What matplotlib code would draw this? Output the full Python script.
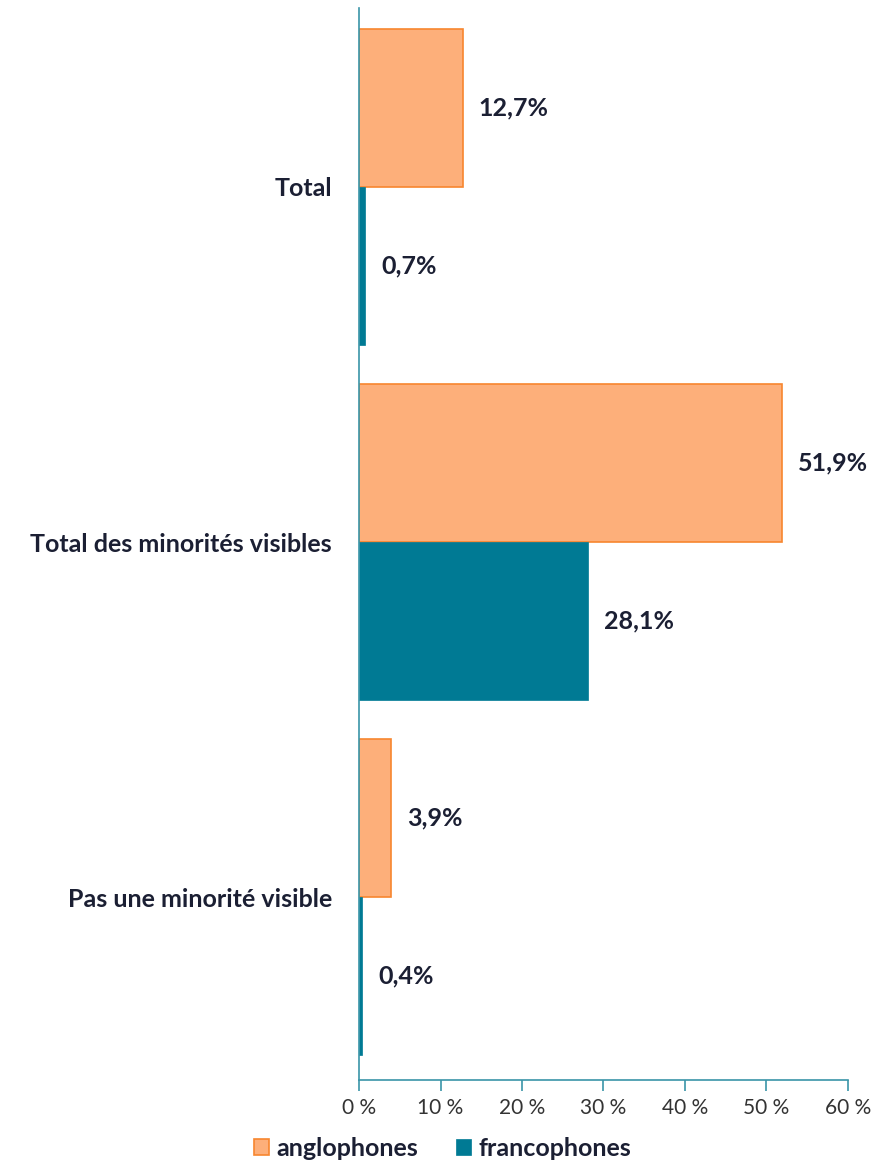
import matplotlib
matplotlib.use("Agg")
import matplotlib.pyplot as plt
import numpy as np

categories = ["Total", "Total des minorités visibles", "Pas une minorité visible"]
anglophones = [12.7, 51.9, 3.9]
francophones = [0.7, 28.1, 0.4]
xticks = [0, 10, 20, 30, 40, 50, 60]

orange = "#FDAF7A"
orange_edge = "#F7862F"
teal = "#007A94"
axis_col = "#3A95A8"
text_col = "#1B1F33"

plt.rcParams['font.family'] = ['Lato', 'DejaVu Sans']

fig = plt.figure(figsize=(8.75, 11.61), dpi=100)
ax = fig.add_axes([0.4103, 0.0698, 0.5588, 0.9233])

y = np.arange(len(categories))
h = 0.445
ax.barh(y - h / 2, anglophones, height=h, color=orange, edgecolor=orange_edge,
        linewidth=1.2, label="anglophones")
ax.barh(y + h / 2, francophones, height=h, color=teal, edgecolor=teal,
        linewidth=0.5, label="francophones")

for i in range(len(categories)):
    ax.text(anglophones[i] + 2.0, y[i] - h / 2, f"{anglophones[i]:.1f}%".replace(".", ","),
            va="center", ha="left", fontsize=18, fontweight="bold", color=text_col)
    ax.text(francophones[i] + 2.0, y[i] + h / 2, f"{francophones[i]:.1f}%".replace(".", ","),
            va="center", ha="left", fontsize=18, fontweight="bold", color=text_col)

ax.set_xlim(0, 60)
ax.set_ylim(2.515, -0.504)
ax.set_yticks(y)
ax.set_yticklabels(categories, fontsize=18, fontweight="bold", color=text_col)
ax.tick_params(axis="y", length=0, pad=19.5)
ax.set_xticks(xticks)
ax.set_xticklabels([f"{t} %" for t in xticks], fontsize=15, color="#333333")
ax.tick_params(axis="x", length=8, width=1.2, color=axis_col, pad=5, direction="out")

for s in ["top", "right"]:
    ax.spines[s].set_visible(False)
for s in ["left", "bottom"]:
    ax.spines[s].set_color(axis_col)
    ax.spines[s].set_linewidth(1.2)

leg = fig.legend(loc="center", bbox_to_anchor=(0.506, 0.011), ncol=2, frameon=False,
                 fontsize=18, handlelength=0.6, handleheight=0.6, handletextpad=0.3,
                 columnspacing=1.5)
for t in leg.get_texts():
    t.set_fontweight("bold")
    t.set_color(text_col)

fig.savefig("out.png", dpi=100)
